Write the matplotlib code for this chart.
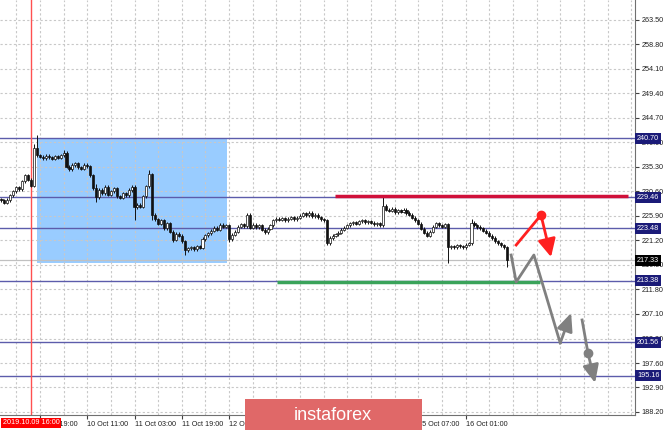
import numpy as np
import matplotlib.pyplot as plt
import matplotlib.patches as patches
import matplotlib.transforms as transforms
from matplotlib.ticker import MultipleLocator, FixedLocator

plt.rcParams['font.family'] = ['Liberation Sans', 'DejaVu Sans']

# H1 candles: closes from bar 3 on, open of each bar = previous close
first_bar = 3
open0 = 229.0
closes = [
    228.8, 228.4, 228.9, 229.8, 230.6, 231.3, 231.0, 232.5, 233.6, 232.8,
    231.6, 238.8, 237.5, 237.2, 236.9, 237.4, 237.1, 236.8, 237.3, 237.0,
    237.5, 238.0, 235.3, 234.8, 235.6, 235.9, 235.2, 234.9, 235.7, 235.4,
    233.6, 231.2, 229.4, 230.8, 230.2, 231.4, 229.9, 230.6, 231.1, 229.6,
    229.3, 230.2, 229.8, 230.8, 231.4, 227.5, 228.0, 227.6, 229.6, 231.5,
    233.8, 226.0, 225.2, 224.3, 225.0, 223.5, 224.4, 222.8, 221.3, 222.4,
    222.0, 221.0, 219.3, 219.6, 219.8, 219.4, 220.0, 219.7, 221.4, 222.1,
    222.5, 223.0, 223.6, 223.2, 224.1, 223.8, 224.0, 221.4, 222.2, 222.8,
    223.8, 224.2, 223.9, 226.0, 223.6, 224.1, 223.7, 224.0, 223.2, 222.7,
    223.4, 224.0, 225.0, 225.3, 225.1, 225.4, 225.0, 225.3, 225.6, 225.2,
    225.5, 225.9, 226.3, 226.0, 226.4, 225.8, 226.1, 225.6, 225.2, 225.0,
    220.6, 221.6, 222.0, 222.3, 222.6, 223.2, 223.6, 224.0, 224.4, 224.6,
    224.3, 224.8, 225.0, 224.6, 224.8, 224.5, 224.2, 224.4, 224.1, 227.8,
    227.0, 226.8, 227.2, 226.5, 226.9, 226.6, 227.0, 226.4, 226.1, 225.5,
    225.0, 224.3, 223.4, 222.6, 222.0, 222.8, 223.8, 224.4, 224.0, 223.8,
    224.2, 219.8, 220.0, 219.8, 220.2, 220.0, 219.8, 220.3, 220.6, 224.5,
    224.0, 223.7, 223.5, 223.0, 222.6, 222.0, 221.6, 221.0, 220.6, 220.2,
    219.8, 217.3,
]
# long wicks (bar -> price)
spike_highs = {14: 239.6, 15: 241.3, 24: 238.4, 35: 232.0, 53: 234.6,
               86: 226.4, 132: 229.5, 162: 225.3}
spike_lows = {35: 228.6, 48: 225.0, 54: 225.0, 61: 220.8, 65: 218.3,
              80: 220.9, 113: 220.2, 154: 216.8, 174: 216.0}

levels = [240.70, 229.46, 223.48, 213.38, 201.56, 195.16]
last_price = 217.33

y_ticks = [188.20, 192.90, 197.60, 202.30, 207.10, 211.80, 216.50, 221.20, 225.90,
           230.60, 235.30, 240.00, 244.70, 249.40, 254.10, 258.80, 263.50]
x_ticks = [16, 32, 48, 64, 80, 96, 112, 128, 144, 160]
x_labels = ['9 Oct 19:00', '10 Oct 11:00', '11 Oct 03:00', '11 Oct 19:00', '12 Oct 11:00',
            '13 Oct 03:00', '13 Oct 19:00', '14 Oct 13:00', '15 Oct 07:00', '16 Oct 01:00']

# scenario drawings
box = (15.0, 79.3, 216.8, 240.7)          # bar from, bar to, low, high
resist = (115.8, 215.0, 229.6)
support = (96.2, 185.2, 213.2)
red_x = [177.1, 185.5]
red_y = [220.25, 226.0]
red_tip = (188.9, 217.95)
gray_x = [175.4, 177.1, 183.1, 192.0]
gray_y = [218.33, 213.15, 218.33, 201.44]
gray_tip = (195.7, 207.2)
gray2_x = [199.4, 201.4]
gray2_y = [205.86, 199.5]
gray2_tip = (203.8, 193.77)

fig = plt.figure(figsize=(6.65, 4.30), dpi=100)
ax = fig.add_axes([0, 15 / 430, 635 / 665, 415 / 430])
ax.set_xlim(2.5, 217.3)
ax.set_ylim(187.62, 267.28)
ax.set_axisbelow(True)

# blue zone
ax.add_patch(patches.Rectangle((box[0], box[2]), box[1] - box[0], box[3] - box[2],
                               fc='#99ccff', ec='none', zorder=0.2))

# levels
for lv in levels:
    ax.axhline(lv, color='#5c5cab', lw=1, zorder=1)
ax.axhline(last_price, color='#c0c0c0', lw=0.9, zorder=1)

# candles
closes = np.array(closes)
bars = np.arange(first_bar, first_bar + len(closes))
opens = np.r_[open0, closes[:-1]]
highs = np.maximum(opens, closes) + 0.3
lows = np.minimum(opens, closes) - 0.3
for b, v in spike_highs.items():
    highs[b - first_bar] = v
for b, v in spike_lows.items():
    lows[b - first_bar] = v
body = closes - opens
body = np.where(np.abs(body) < 0.2, np.where(body >= 0, 0.2, -0.2), body)
up = closes >= opens
ax.vlines(bars, lows, highs, color='#111111', lw=0.7, zorder=3)
ax.bar(bars[up], body[up], bottom=opens[up], width=0.7, color='white',
       edgecolor='#111111', lw=0.5, zorder=4)
ax.bar(bars[~up], body[~up], bottom=opens[~up], width=0.7, color='#111111',
       edgecolor='#111111', lw=0.5, zorder=4)

# resistance / support
ax.hlines(resist[2], resist[0], resist[1], color='#d0103a', lw=2.5, zorder=5)
ax.hlines(support[2], support[0], support[1], color='#3aa35a', lw=2.5, zorder=5)

# red scenario
ax.plot(red_x, red_y, color='#ff2020', lw=2, zorder=6)
ax.plot(red_x[-1], red_y[-1], 'o', color='#ff2020', ms=6, zorder=6)
ax.annotate('', xy=red_tip, xytext=(red_x[-1], red_y[-1]),
            arrowprops=dict(arrowstyle='-|>,head_length=0.9,head_width=0.45',
                            color='#ff2020', lw=2, mutation_scale=12, shrinkA=0, shrinkB=0),
            zorder=6)

# gray scenario
ax.plot(gray_x, gray_y, color='#808080', lw=2, zorder=6)
ax.annotate('', xy=gray_tip, xytext=(gray_x[-1], gray_y[-1]),
            arrowprops=dict(arrowstyle='-|>,head_length=0.9,head_width=0.4',
                            color='#808080', lw=2, mutation_scale=12, shrinkA=0, shrinkB=0),
            zorder=6)
ax.plot(gray2_x, gray2_y, color='#808080', lw=2, zorder=6)
ax.plot(gray2_x[-1], gray2_y[-1], 'o', color='#808080', ms=6, zorder=6)
ax.annotate('', xy=gray2_tip, xytext=(gray2_x[-1], gray2_y[-1]),
            arrowprops=dict(arrowstyle='-|>,head_length=0.9,head_width=0.4',
                            color='#808080', lw=2, mutation_scale=12, shrinkA=0, shrinkB=0),
            zorder=6)

# vertical marker
ax.axvline(13, color='#ff5050', lw=1, zorder=2)

# axes look
for s in ['left', 'top']:
    ax.spines[s].set_visible(False)
for s in ['bottom', 'right']:
    ax.spines[s].set_color('#707070')
ax.yaxis.tick_right()
ax.yaxis.set_major_locator(FixedLocator(y_ticks))
ax.yaxis.set_major_formatter('{x:.2f}')
ax.xaxis.set_major_locator(FixedLocator(x_ticks))
ax.set_xticklabels(x_labels)
ax.xaxis.set_minor_locator(MultipleLocator(8))
plt.setp(ax.get_xticklabels(), ha='left')
ax.tick_params(axis='both', which='major', labelsize=5.2, length=3, width=0.8,
               color='#404040', labelcolor='#202020', pad=1.5)
ax.tick_params(axis='x', which='minor', length=0)
ax.grid(True, axis='y', color='#c8c8c8', ls=(0, (2, 2)), lw=0.8)
ax.grid(True, axis='x', which='both', color='#c8c8c8', ls=(0, (2, 2)), lw=0.8)

# price labels on the right axis
ty = transforms.blended_transform_factory(ax.transAxes, ax.transData)
for lv in levels:
    ax.text(1.003, lv, f'{lv:.2f}', transform=ty, color='white', fontsize=5.2,
            va='center', ha='left', clip_on=False, zorder=10,
            bbox=dict(boxstyle='square,pad=0.28', fc='#1b1b78', ec='none'))
ax.text(1.003, last_price, f'{last_price:.2f}', transform=ty, color='white', fontsize=5.2,
        va='center', ha='left', clip_on=False, zorder=10,
        bbox=dict(boxstyle='square,pad=0.28', fc='black', ec='none'))

# date label under the red line
tx = transforms.blended_transform_factory(ax.transData, ax.transAxes)
ax.text(13, -0.019, '2019.10.09 16:00', transform=tx, color='white', fontsize=5.2,
        va='center', ha='center', clip_on=False, zorder=10,
        bbox=dict(boxstyle='square,pad=0.25', fc='#ff0000', ec='none'))

# watermark banner
fig.patches.append(patches.Rectangle((245 / 665, 0), 177 / 665, 31 / 430,
                                     transform=fig.transFigure, fc='#e06868',
                                     ec='none', zorder=5))
fig.text(333 / 665, 14 / 430, 'instaforex', color='white', fontsize=13,
         ha='center', va='center', zorder=6)

fig.savefig('out.png', dpi=100)
